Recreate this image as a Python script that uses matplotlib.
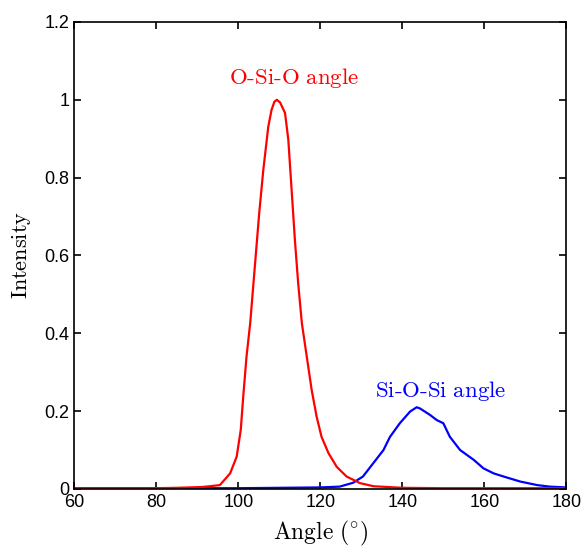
import matplotlib
matplotlib.use("Agg")
import matplotlib.pyplot as plt

plt.rcParams['mathtext.fontset'] = 'cm'
plt.rcParams['font.family'] = ['Liberation Sans', 'DejaVu Sans']

# O-Si-O bond angle distribution
osio_angle = [60, 70, 80, 85, 88, 91, 93, 95.5, 98.0, 99.6, 100.6, 101.2, 102.0,
              102.9, 103.7, 104.5, 105.1, 106.1, 107.3, 108.1, 108.8, 109.4,
              110.2, 111.4, 112.2, 113.0, 113.8, 114.6, 115.5, 116.7, 117.9,
              119.1, 120.3, 122.0, 124.0, 126.4, 129.7, 133, 140, 150, 160,
              170, 180]
osio_int = [0.002, 0.002, 0.002, 0.003, 0.004, 0.005, 0.007, 0.010, 0.040, 0.083,
            0.152, 0.237, 0.34, 0.426, 0.529, 0.632, 0.709, 0.82, 0.93, 0.974,
            0.995, 1.0, 0.993, 0.966, 0.897, 0.769, 0.64, 0.529, 0.426, 0.34,
            0.254, 0.186, 0.134, 0.092, 0.057, 0.032, 0.015, 0.007, 0.003,
            0.002, 0.002, 0.002, 0.002]

# Si-O-Si bond angle distribution
sios_angle = [60, 80, 100, 110, 120, 124.7, 128.0, 130.4, 132.9, 135.4, 137.0,
              139.4, 141.9, 143.5, 144.3, 146.8, 148.4, 150.0, 151.6, 154.1,
              157.4, 159.8, 162.3, 164.7, 168.8, 172.9, 176, 180]
sios_int = [0.002, 0.002, 0.002, 0.003, 0.004, 0.006, 0.016, 0.032, 0.066, 0.10,
            0.134, 0.169, 0.199, 0.21, 0.207, 0.19, 0.177, 0.169, 0.134, 0.10,
            0.075, 0.053, 0.04, 0.032, 0.019, 0.01, 0.006, 0.004]

fig = plt.figure(figsize=(5.86, 5.48), dpi=100)
ax = fig.add_axes([0.1268, 0.1077, 0.8396, 0.8522])

ax.plot(sios_angle, sios_int, color='blue', lw=1.6)
ax.plot(osio_angle, osio_int, color='red', lw=1.6)

ax.text(113.6, 1.055, r'$\mathrm{O\text{-}Si\text{-}O\ angle}$', color='red',
        fontsize=16.5, ha='center', va='center')
ax.text(149.4, 0.252, r'$\mathrm{Si\text{-}O\text{-}Si\ angle}$', color='blue',
        fontsize=16.5, ha='center', va='center')

ax.set_xlim(60, 180)
ax.set_ylim(0, 1.2)
ax.set_xticks([60, 80, 100, 120, 140, 160, 180])
ax.set_yticks([0, 0.2, 0.4, 0.6, 0.8, 1.0, 1.2])
ax.set_yticklabels(['0', '0.2', '0.4', '0.6', '0.8', '1', '1.2'])
ax.tick_params(direction='in', top=True, right=True, labelsize=13, length=5, width=1.2)
for s in ax.spines.values():
    s.set_linewidth(1.2)

ax.set_xlabel(r'$\mathrm{Angle\ (^{\circ})}$', fontsize=17, labelpad=6)
ax.set_ylabel(r'$\mathrm{Intensity}$', fontsize=16, labelpad=8)

fig.savefig('out.png', dpi=100)
